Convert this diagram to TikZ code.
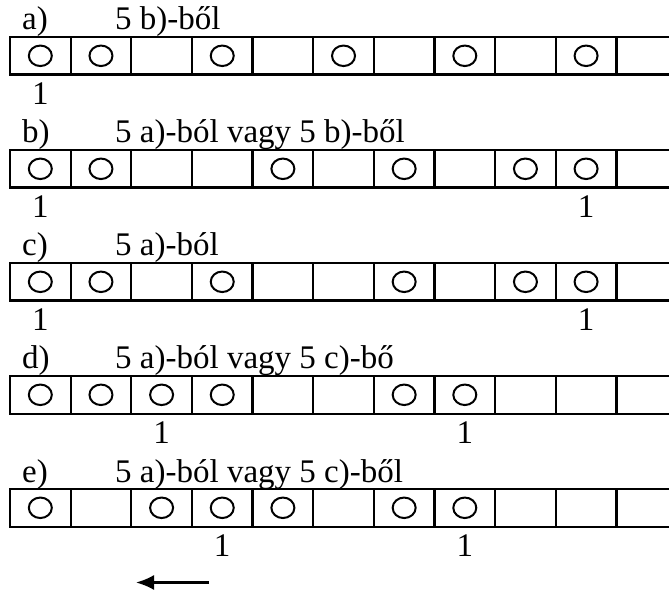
\documentclass[tikz,border=0pt]{standalone}
\usepackage{fontspec}
\setmainfont{Liberation Serif}
\usetikzlibrary{shapes.geometric,arrows.meta}
\begin{document}
\begin{tikzpicture}[x=1pt,y=-1pt,
  cellbox/.style={draw,line width=2.2pt,minimum width=60.64pt,minimum height=37.6pt,inner sep=0pt,outer sep=0pt},
  ring/.style={draw,ellipse,line width=2pt,minimum width=23pt,minimum height=20.5pt,inner sep=0pt},
  txt/.style={font=\fontsize{33}{40}\selectfont,inner sep=0pt,anchor=base west},
  num/.style={font=\fontsize{33}{40}\selectfont,inner sep=0pt,anchor=base}]
\useasboundingbox (0,0) rectangle (669,593);
\clip (0,0) rectangle (669,593);
% row a
\foreach \k in {1,...,11} \node[cellbox] (a\k) at ({10+60.64*(\k-0.5)},55.8) {};
\node[txt] (alab) at (22,30) {a)};
\node[txt] (atxt) at (115,30) {5 b)-ből};
\foreach \k in {1,2,4,6,8,10} \node[ring] (ao\k) at (a\k) {};
\path (a1.south) ++(0,30) node[num] (an1) {1};
% row b
\foreach \k in {1,...,11} \node[cellbox] (b\k) at ({10+60.64*(\k-0.5)},168.8) {};
\node[txt] (blab) at (22,143) {b)};
\node[txt] (btxt) at (115,143) {5 a)-ból vagy 5 b)-ből};
\foreach \k in {1,2,5,7,9,10} \node[ring] (bo\k) at (b\k) {};
\path (b1.south) ++(0,30) node[num] (bn1) {1};
\path (b10.south) ++(0,30) node[num] (bn10) {1};
% row c
\foreach \k in {1,...,11} \node[cellbox] (c\k) at ({10+60.64*(\k-0.5)},281.8) {};
\node[txt] (clab) at (22,256) {c)};
\node[txt] (ctxt) at (115,256) {5 a)-ból};
\foreach \k in {1,2,4,7,9,10} \node[ring] (co\k) at (c\k) {};
\path (c1.south) ++(0,30) node[num] (cn1) {1};
\path (c10.south) ++(0,30) node[num] (cn10) {1};
% row d
\foreach \k in {1,...,11} \node[cellbox] (d\k) at ({10+60.64*(\k-0.5)},394.8) {};
\node[txt] (dlab) at (22,369) {d)};
\node[txt] (dtxt) at (115,369) {5 a)-ból vagy 5 c)-bő};
\foreach \k in {1,2,3,4,7,8} \node[ring] (do\k) at (d\k) {};
\path (d3.south) ++(0,30) node[num] (dn3) {1};
\path (d8.south) ++(0,30) node[num] (dn8) {1};
% row e
\foreach \k in {1,...,11} \node[cellbox] (e\k) at ({10+60.64*(\k-0.5)},507.8) {};
\node[txt] (elab) at (22,482) {e)};
\node[txt] (etxt) at (115,482) {5 a)-ból vagy 5 c)-ből};
\foreach \k in {1,3,4,5,7,8} \node[ring] (eo\k) at (e\k) {};
\path (e4.south) ++(0,30) node[num] (en4) {1};
\path (e8.south) ++(0,30) node[num] (en8) {1};
% arrow
\coordinate (arrtail) at (209,582.5);
\coordinate (arrtip) at (136,582.5);
\draw[line width=2.2pt,-{Latex[length=18pt,width=15pt]}] (arrtail) -- (arrtip);
\end{tikzpicture}
\end{document}
